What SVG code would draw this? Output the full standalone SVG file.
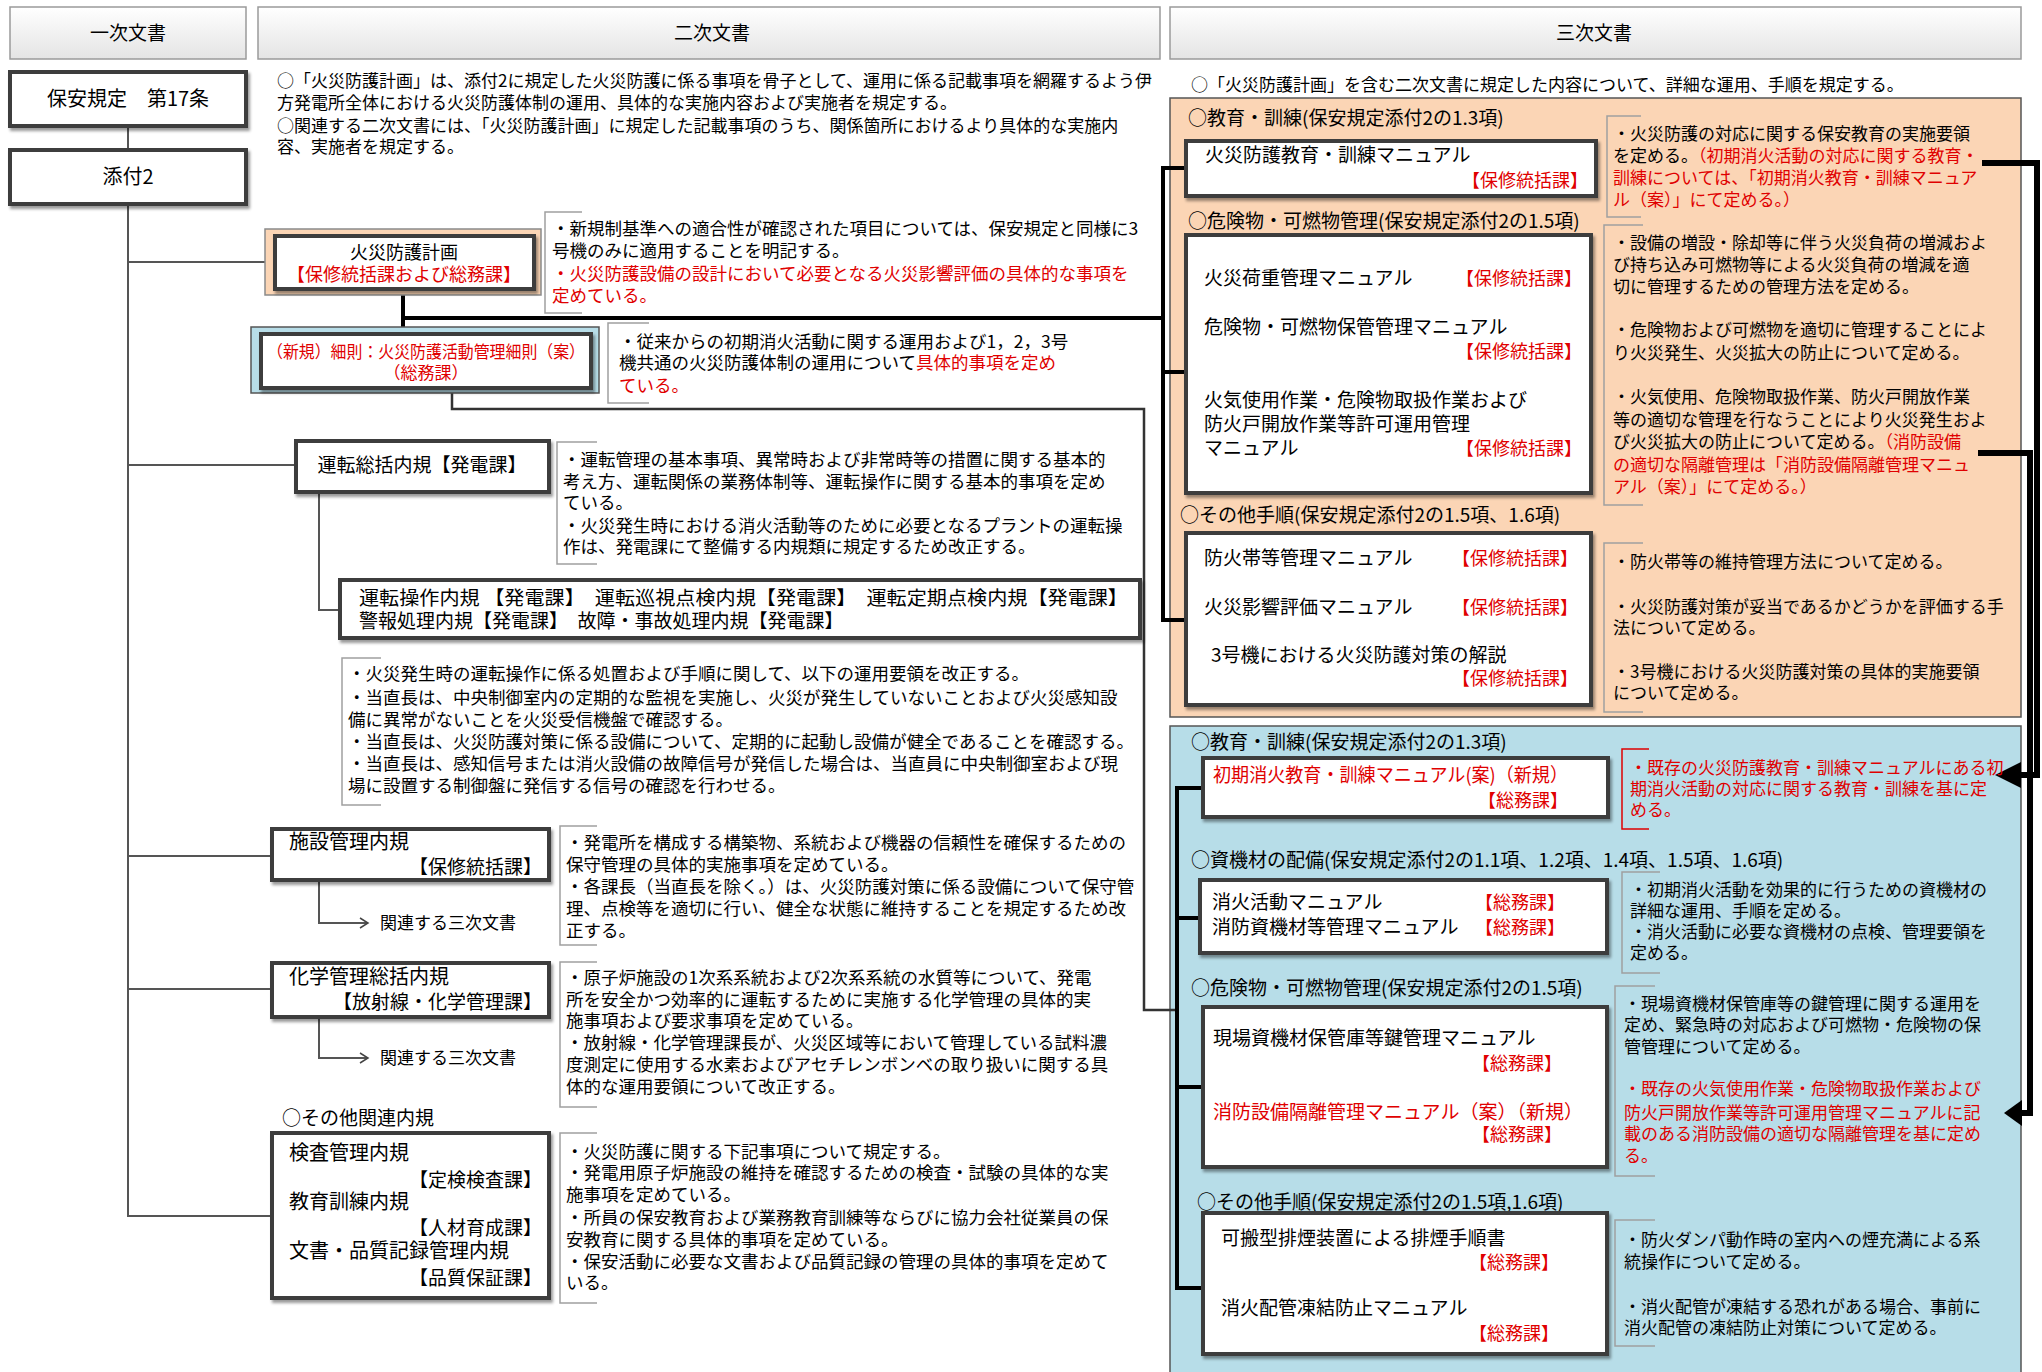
<svg xmlns="http://www.w3.org/2000/svg" width="2042" height="1372" viewBox="0 0 2042 1372">
<defs>
<linearGradient id="hg" x1="0" y1="0" x2="0" y2="1"><stop offset="0" stop-color="#ffffff"/><stop offset="1" stop-color="#e4e4e4"/></linearGradient>
<filter id="sh" x="-10%" y="-10%" width="130%" height="140%"><feDropShadow dx="2" dy="3" stdDeviation="1.5" flood-color="#000" flood-opacity="0.4"/></filter>
<marker id="chev" markerUnits="userSpaceOnUse" markerWidth="12" markerHeight="12" refX="10" refY="6" orient="auto"><path d="M2,1 L10,6 L2,11" fill="none" stroke="#444" stroke-width="1.5"/></marker>
</defs>
<style>
text{font-family:"Noto Sans CJK JP","Noto Sans CJK SC",sans-serif;fill:#000}
.d{font-size:17px}
.dl{font-size:17.5px}
.n{font-size:19px}
.nl{font-size:20px}
.g{font-size:18px}
.r{fill:#e00000}
.m{text-anchor:middle}
.e{text-anchor:end}
.hdr{fill:url(#hg);stroke:#9a9a9a;stroke-width:1.5}
.box{fill:#fff;stroke:#3c3c3c;stroke-width:4;filter:url(#sh)}
.br{fill:none;stroke:#a0a0a0;stroke-width:1.5}
.ln{fill:none;stroke:#555;stroke-width:2}
.tk{fill:none;stroke:#000;stroke-width:4}
.ar{fill:none;stroke:#000;stroke-width:6}
</style>
<rect width="2042" height="1372" fill="#fff"/>

<g id="headers">
<rect class="hdr" x="10" y="7" width="236" height="52"/>
<text class="n m" x="128" y="40">一次文書</text>
<rect class="hdr" x="258" y="7" width="902" height="52"/>
<text class="n m" x="712" y="40">二次文書</text>
<rect class="hdr" x="1170" y="7" width="851" height="52"/>
<text class="n m" x="1594" y="40">三次文書</text>
</g>

<g id="containers">
<rect x="1170" y="98" width="851" height="619" fill="#fbd5b5" stroke="#555" stroke-width="1.5"/>
<rect x="1170" y="726" width="851" height="660" fill="#b7dde8" stroke="#555" stroke-width="1.5"/>
</g>

<g id="connectors">
<path class="ln" d="M128,126 V150 M128,204 V1217 M128,262 H265 M128,465 H296 M128,856 H272 M128,989 H272 M128,1216 H272"/>
<path class="ln" d="M319,492 V610 H340"/>
<path class="ln" d="M319,880 V923 H368" marker-end="url(#chev)"/>
<path class="ln" d="M319,1017 V1058 H368" marker-end="url(#chev)"/>
<path class="tk" d="M403,289 V334 M403,318 H1163 M1163,166 V622 M1163,168 H1186 M1163,372 H1186 M1163,620 H1186"/>
<path fill="none" stroke="#333" stroke-width="2.5" d="M452,388 V409 H1144 V1010 H1177"/>
<path class="tk" d="M1177,786 V1290 M1177,788 H1203 M1177,918 H1200 M1177,1087 H1203 M1177,1288 H1203"/>
<path class="ar" d="M1982,163 H2037 V775 H2018"/>
<polygon points="1995,775 2021,762 2021,788" fill="#000"/>
<path class="ar" d="M1978,453 H2030 V1113 H2018"/>
<polygon points="2004,1113 2022,1100 2022,1126" fill="#000"/>
</g>

<g id="n-hoan">
<rect class="box" x="10" y="72" width="236" height="54"/>
<text class="nl m" x="128" y="106">保安規定　第17条</text>
</g>
<g id="n-tenpu2">
<rect class="box" x="10" y="150" width="236" height="54"/>
<text class="nl m" x="128" y="184">添付2</text>
</g>

<g id="top-note2">
<text class="d" x="277" y="87">○「火災防護計画」は、添付2に規定した火災防護に係る事項を骨子として、運用に係る記載事項を網羅するよう伊</text>
<text class="d" x="277" y="109">方発電所全体における火災防護体制の運用、具体的な実施内容および実施者を規定する。</text>
<text class="d" x="277" y="132">○関連する二次文書には、「火災防護計画」に規定した記載事項のうち、関係箇所におけるより具体的な実施内</text>
<text class="d" x="277" y="153">容、実施者を規定する。</text>
</g>

<g id="n-keikaku">
<rect x="265" y="229" width="276" height="66" fill="#fbd5b5" stroke="#8a8a8a" stroke-width="1.5"/>
<rect class="box" x="275" y="236" width="259" height="53"/>
<text class="g m" x="404" y="259">火災防護計画</text>
<text class="g m r" x="404" y="281">【保修統括課および総務課】</text>
<path class="br" d="M582,212 H545 V313 H582"/>
<text class="dl" x="552" y="235">・新規制基準への適合性が確認された項目については、保安規定と同様に3</text>
<text class="dl" x="552" y="257">号機のみに適用することを明記する。</text>
<text class="dl r" x="552" y="280">・火災防護設備の設計において必要となる火災影響評価の具体的な事項を</text>
<text class="dl r" x="552" y="302">定めている。</text>
</g>

<g id="n-saisoku">
<rect x="251" y="327" width="348" height="66" fill="#b7dde8" stroke="#555" stroke-width="1.5"/>
<rect class="box" x="261" y="334" width="330" height="54"/>
<text class="d m r" x="426" y="358" textLength="318" lengthAdjust="spacingAndGlyphs">（新規）細則：火災防護活動管理細則（案）</text>
<text class="d m r" x="426" y="379">（総務課）</text>
<path class="br" d="M649,323 H608 V403 H649"/>
<text class="dl" x="619" y="348">・従来からの初期消火活動に関する運用および1，2，3号</text>
<text class="dl" x="619" y="369">機共通の火災防護体制の運用について<tspan class="r">具体的事項を定め</tspan></text>
<text class="dl r" x="619" y="392">ている。</text>
</g>

<g id="n-unten">
<rect class="box" x="296" y="441" width="253" height="51"/>
<text class="n m" x="422" y="472">運転総括内規【発電課】</text>
<path class="br" d="M597,442 H557 V564 H597"/>
<text class="dl" x="563" y="466">・運転管理の基本事項、異常時および非常時等の措置に関する基本的</text>
<text class="dl" x="563" y="488">考え方、運転関係の業務体制等、運転操作に関する基本的事項を定め</text>
<text class="dl" x="563" y="509">ている。</text>
<text class="dl" x="563" y="532">・火災発生時における消火活動等のために必要となるプラントの運転操</text>
<text class="dl" x="563" y="553">作は、発電課にて整備する内規類に規定するため改正する。</text>
</g>

<g id="n-unten-sousa">
<rect class="box" x="340" y="580" width="800" height="58"/>
<text class="n" x="359" y="605" textLength="769" lengthAdjust="spacingAndGlyphs">運転操作内規 【発電課】　運転巡視点検内規【発電課】　運転定期点検内規【発電課】</text>
<text class="n" x="359" y="628">警報処理内規【発電課】　故障・事故処理内規【発電課】</text>
<path class="br" d="M381,658 H342 V805 H381"/>
<text class="dl" x="348" y="680">・火災発生時の運転操作に係る処置および手順に関して、以下の運用要領を改正する。</text>
<text class="dl" x="348" y="704">・当直長は、中央制御室内の定期的な監視を実施し、火災が発生していないことおよび火災感知設</text>
<text class="dl" x="348" y="726">備に異常がないことを火災受信機盤で確認する。</text>
<text class="dl" x="348" y="748">・当直長は、火災防護対策に係る設備について、定期的に起動し設備が健全であることを確認する。</text>
<text class="dl" x="348" y="770">・当直長は、感知信号または消火設備の故障信号が発信した場合は、当直員に中央制御室および現</text>
<text class="dl" x="348" y="792">場に設置する制御盤に発信する信号の確認を行わせる。</text>
</g>

<g id="n-shisetsu">
<rect class="box" x="272" y="829" width="277" height="51"/>
<text class="nl" x="289" y="849">施設管理内規</text>
<text class="n e" x="542" y="874">【保修統括課】</text>
<text class="d" x="380" y="929">関連する三次文書</text>
<path class="br" d="M597,826 H560 V945 H597"/>
<text class="dl" x="566" y="849">・発電所を構成する構築物、系統および機器の信頼性を確保するための</text>
<text class="dl" x="566" y="871">保守管理の具体的実施事項を定めている。</text>
<text class="dl" x="566" y="893">・各課長（当直長を除く。）は、火災防護対策に係る設備について保守管</text>
<text class="dl" x="566" y="915">理、点検等を適切に行い、健全な状態に維持することを規定するため改</text>
<text class="dl" x="566" y="937">正する。</text>
</g>

<g id="n-kagaku">
<rect class="box" x="272" y="963" width="277" height="54"/>
<text class="nl" x="289" y="984">化学管理総括内規</text>
<text class="n e" x="542" y="1009">【放射線・化学管理課】</text>
<text class="d" x="380" y="1064">関連する三次文書</text>
<path class="br" d="M597,962 H560 V1107 H597"/>
<text class="dl" x="566" y="984">・原子炉施設の1次系系統および2次系系統の水質等について、発電</text>
<text class="dl" x="566" y="1006">所を安全かつ効率的に運転するために実施する化学管理の具体的実</text>
<text class="dl" x="566" y="1027">施事項および要求事項を定めている。</text>
<text class="dl" x="566" y="1049">・放射線・化学管理課長が、火災区域等において管理している試料濃</text>
<text class="dl" x="566" y="1071">度測定に使用する水素およびアセチレンボンベの取り扱いに関する具</text>
<text class="dl" x="566" y="1093">体的な運用要領について改正する。</text>
</g>

<g id="n-sonota">
<text class="n" x="282" y="1125">○その他関連内規</text>
<rect class="box" x="272" y="1133" width="277" height="165"/>
<text class="nl" x="289" y="1160">検査管理内規</text>
<text class="n e" x="542" y="1187">【定検検査課】</text>
<text class="nl" x="289" y="1209">教育訓練内規</text>
<text class="n e" x="542" y="1235">【人材育成課】</text>
<text class="nl" x="289" y="1258">文書・品質記録管理内規</text>
<text class="n e" x="542" y="1285">【品質保証課】</text>
<path class="br" d="M597,1133 H560 V1303 H597"/>
<text class="dl" x="566" y="1158">・火災防護に関する下記事項について規定する。</text>
<text class="dl" x="566" y="1179">・発電用原子炉施設の維持を確認するための検査・試験の具体的な実</text>
<text class="dl" x="566" y="1201">施事項を定めている。</text>
<text class="dl" x="566" y="1224">・所員の保安教育および業務教育訓練等ならびに協力会社従業員の保</text>
<text class="dl" x="566" y="1246">安教育に関する具体的事項を定めている。</text>
<text class="dl" x="566" y="1268">・保安活動に必要な文書および品質記録の管理の具体的事項を定めて</text>
<text class="dl" x="566" y="1289">いる。</text>
</g>

<g id="top-note3">
<text class="d" x="1191" y="91">○「火災防護計画」を含む二次文書に規定した内容について、詳細な運用、手順を規定する。</text>
</g>

<g id="n-kyoiku">
<text class="n" x="1188" y="125">○教育・訓練(保安規定添付2の1.3項)</text>
<rect class="box" x="1186" y="141" width="410" height="55"/>
<text class="n" x="1205" y="162">火災防護教育・訓練マニュアル</text>
<text class="g e r" x="1588" y="187">【保修統括課】</text>
<path class="br" d="M1641,116 H1607 V217 H1641"/>
<text class="d" x="1613" y="140">・火災防護の対応に関する保安教育の実施要領</text>
<text class="d" x="1613" y="162">を定める。<tspan class="r">（初期消火活動の対応に関する教育・</tspan></text>
<text class="d r" x="1613" y="184">訓練については、「初期消火教育・訓練マニュア</text>
<text class="d r" x="1613" y="206">ル（案）」にて定める。）</text>
</g>

<g id="n-kikenbutsu">
<text class="n" x="1188" y="228">○危険物・可燃物管理(保安規定添付2の1.5項)</text>
<rect class="box" x="1186" y="235" width="405" height="258"/>
<text class="n" x="1204" y="285">火災荷重管理マニュアル</text>
<text class="g e r" x="1582" y="285">【保修統括課】</text>
<text class="n" x="1204" y="334">危険物・可燃物保管管理マニュアル</text>
<text class="g e r" x="1582" y="358">【保修統括課】</text>
<text class="n" x="1204" y="407">火気使用作業・危険物取扱作業および</text>
<text class="n" x="1204" y="431">防火戸開放作業等許可運用管理</text>
<text class="n" x="1204" y="455">マニュアル</text>
<text class="g e r" x="1582" y="455">【保修統括課】</text>
<path class="br" d="M1643,225 H1604 V505 H1643"/>
<text class="d" x="1613" y="249">・設備の増設・除却等に伴う火災負荷の増減およ</text>
<text class="d" x="1613" y="271">び持ち込み可燃物等による火災負荷の増減を適</text>
<text class="d" x="1613" y="293">切に管理するための管理方法を定める。</text>
<text class="d" x="1613" y="336">・危険物および可燃物を適切に管理することによ</text>
<text class="d" x="1613" y="359">り火災発生、火災拡大の防止について定める。</text>
<text class="d" x="1613" y="403">・火気使用、危険物取扱作業、防火戸開放作業</text>
<text class="d" x="1613" y="426">等の適切な管理を行なうことにより火災発生およ</text>
<text class="d" x="1613" y="448">び火災拡大の防止について定める。<tspan class="r">（消防設備</tspan></text>
<text class="d r" x="1613" y="471">の適切な隔離管理は「消防設備隔離管理マニュ</text>
<text class="d r" x="1613" y="493">アル（案）」にて定める。）</text>
</g>

<g id="n-sonota3">
<text class="n" x="1180" y="522">○その他手順(保安規定添付2の1.5項、1.6項)</text>
<rect class="box" x="1186" y="533" width="405" height="172"/>
<text class="n" x="1204" y="565">防火帯等管理マニュアル</text>
<text class="g e r" x="1578" y="565">【保修統括課】</text>
<text class="n" x="1204" y="614">火災影響評価マニュアル</text>
<text class="g e r" x="1578" y="614">【保修統括課】</text>
<text class="n" x="1211" y="662">3号機における火災防護対策の解説</text>
<text class="g e r" x="1578" y="685">【保修統括課】</text>
<path class="br" d="M1643,543 H1604 V712 H1643"/>
<text class="d" x="1613" y="568">・防火帯等の維持管理方法について定める。</text>
<text class="d" x="1613" y="613">・火災防護対策が妥当であるかどうかを評価する手</text>
<text class="d" x="1613" y="634">法について定める。</text>
<text class="d" x="1613" y="678">・3号機における火災防護対策の具体的実施要領</text>
<text class="d" x="1613" y="699">について定める。</text>
</g>

<g id="n-shoki">
<text class="n" x="1191" y="749">○教育・訓練(保安規定添付2の1.3項)</text>
<rect class="box" x="1203" y="758" width="405" height="59"/>
<text class="n r" x="1213" y="782" textLength="355" lengthAdjust="spacingAndGlyphs">初期消火教育・訓練マニュアル(案)（新規）</text>
<text class="g e r" x="1568" y="807">【総務課】</text>
<path fill="none" stroke="#e00000" stroke-width="1.5" d="M1649,749 H1622 V829 H1649"/>
<text class="d r" x="1630" y="774">・既存の火災防護教育・訓練マニュアルにある初</text>
<text class="d r" x="1630" y="795">期消火活動の対応に関する教育・訓練を基に定</text>
<text class="d r" x="1630" y="816">める。</text>
</g>

<g id="n-shikizai">
<text class="n" x="1191" y="867">○資機材の配備(保安規定添付2の1.1項、1.2項、1.4項、1.5項、1.6項)</text>
<rect class="box" x="1200" y="880" width="407" height="73"/>
<text class="n" x="1212" y="909">消火活動マニュアル</text>
<text class="g e r" x="1565" y="909">【総務課】</text>
<text class="n" x="1212" y="934">消防資機材等管理マニュアル</text>
<text class="g e r" x="1565" y="934">【総務課】</text>
<path class="br" d="M1660,872 H1622 V973 H1660"/>
<text class="d" x="1630" y="896">・初期消火活動を効果的に行うための資機材の</text>
<text class="d" x="1630" y="917">詳細な運用、手順を定める。</text>
<text class="d" x="1630" y="938">・消火活動に必要な資機材の点検、管理要領を</text>
<text class="d" x="1630" y="959">定める。</text>
</g>

<g id="n-kiken-blue">
<text class="n" x="1191" y="995">○危険物・可燃物管理(保安規定添付2の1.5項)</text>
<rect class="box" x="1203" y="1007" width="404" height="160"/>
<text class="n" x="1213" y="1045">現場資機材保管庫等鍵管理マニュアル</text>
<text class="g e r" x="1562" y="1070">【総務課】</text>
<text class="n r" x="1213" y="1119">消防設備隔離管理マニュアル（案）（新規）</text>
<text class="g e r" x="1562" y="1141">【総務課】</text>
<path class="br" d="M1655,986 H1615 V1176 H1655"/>
<text class="d" x="1624" y="1010">・現場資機材保管庫等の鍵管理に関する運用を</text>
<text class="d" x="1624" y="1031">定め、緊急時の対応および可燃物・危険物の保</text>
<text class="d" x="1624" y="1053">管管理について定める。</text>
<text class="d r" x="1624" y="1095">・既存の火気使用作業・危険物取扱作業および</text>
<text class="d r" x="1624" y="1119">防火戸開放作業等許可運用管理マニュアルに記</text>
<text class="d r" x="1624" y="1140">載のある消防設備の適切な隔離管理を基に定め</text>
<text class="d r" x="1624" y="1162">る。</text>
</g>

<g id="n-sonota-blue">
<text class="n" x="1197" y="1209">○その他手順(保安規定添付2の1.5項,1.6項)</text>
<rect class="box" x="1203" y="1213" width="404" height="141"/>
<text class="n" x="1221" y="1245">可搬型排煙装置による排煙手順書</text>
<text class="g e r" x="1559" y="1269">【総務課】</text>
<text class="n" x="1221" y="1315">消火配管凍結防止マニュアル</text>
<text class="g e r" x="1559" y="1340">【総務課】</text>
<path class="br" d="M1655,1220 H1615 V1346 H1655"/>
<text class="d" x="1624" y="1246">・防火ダンパ動作時の室内への煙充満による系</text>
<text class="d" x="1624" y="1268">統操作について定める。</text>
<text class="d" x="1624" y="1313">・消火配管が凍結する恐れがある場合、事前に</text>
<text class="d" x="1624" y="1334">消火配管の凍結防止対策について定める。</text>
</g>
</svg>
